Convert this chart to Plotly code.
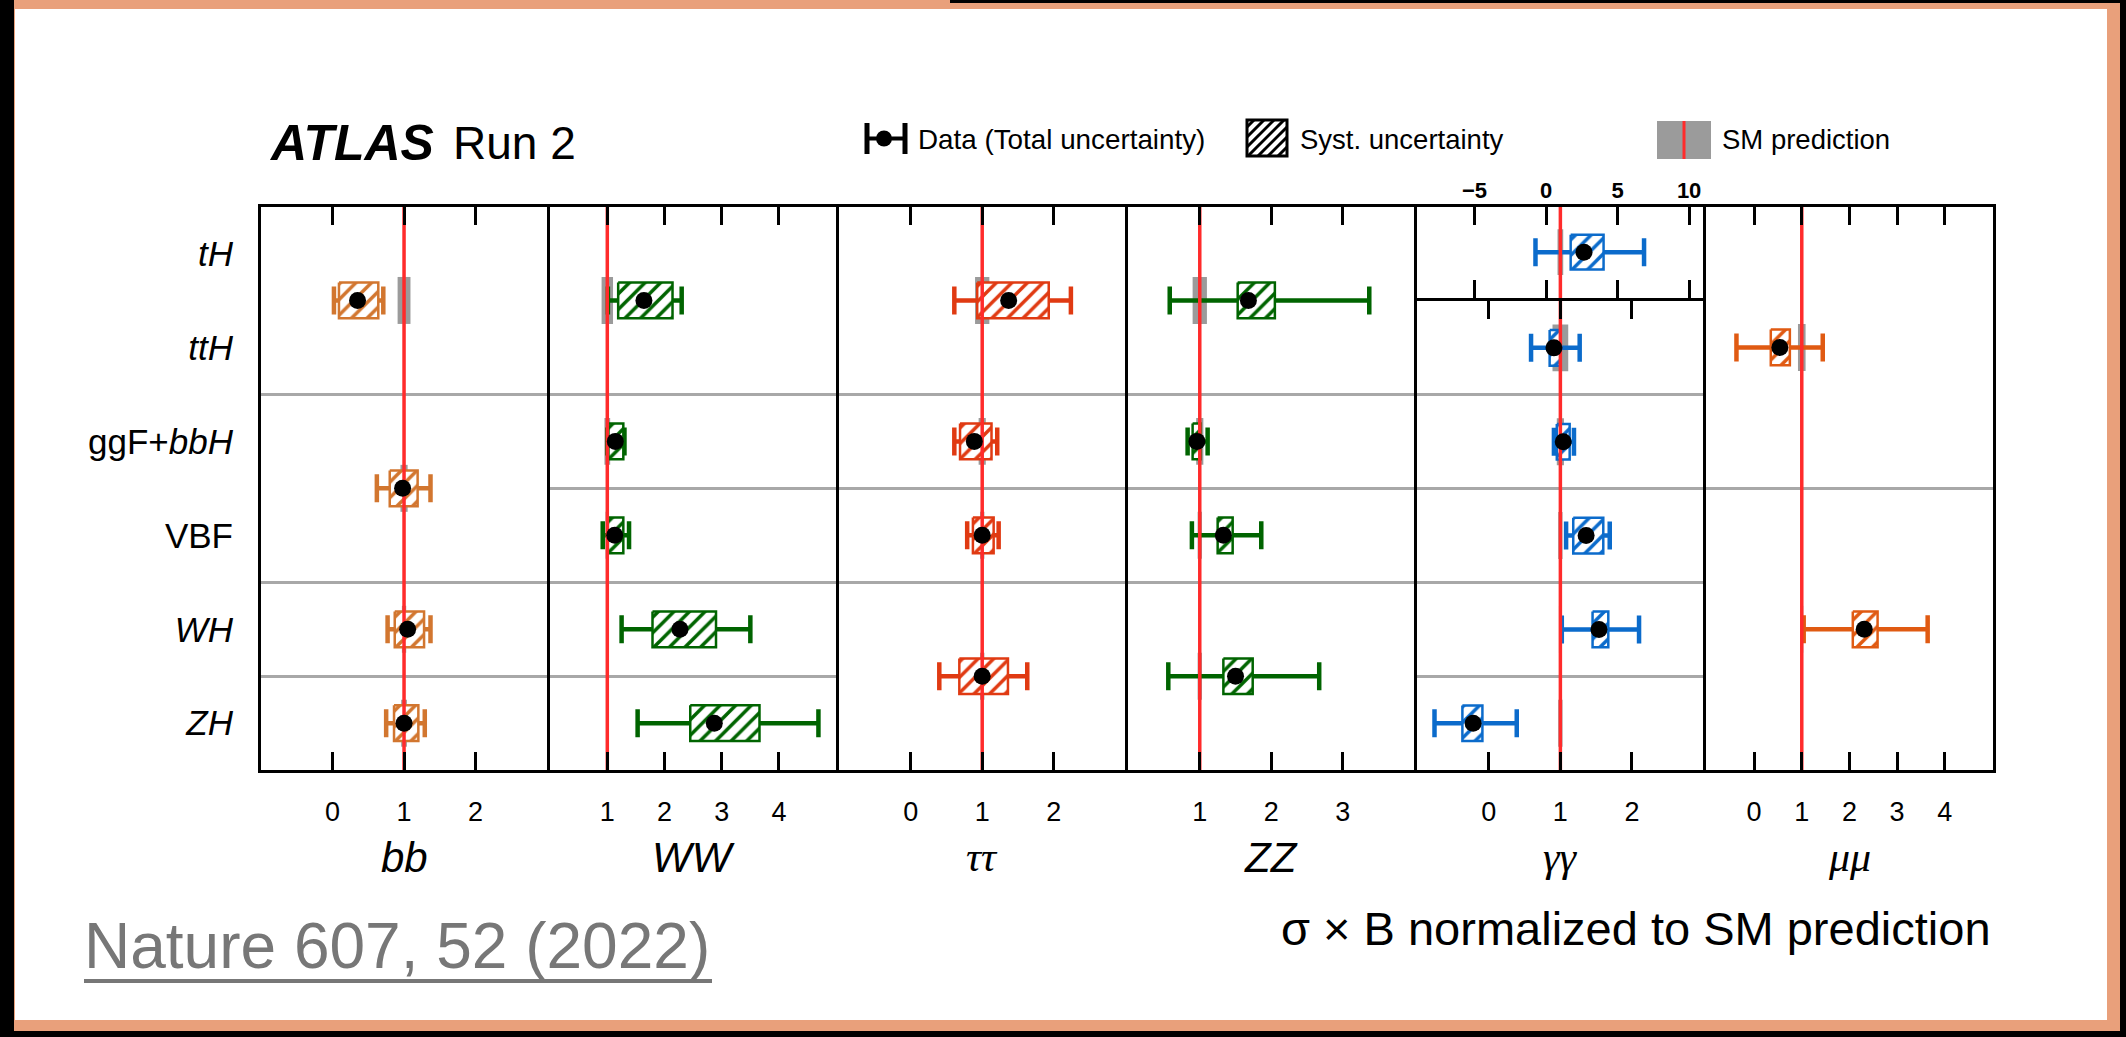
import plotly.graph_objects as go

W, H = 2126, 1037

# ---------------- data ----------------
row_labels = ["<i>tH</i>", "<i>ttH</i>", "ggF+<i>bbH</i>", "VBF", "<i>WH</i>", "<i>ZH</i>"]
row_centers = [0.5, 1.5, 2.5, 3.5, 4.5, 5.5]

# H -> bb
bb_y = [1.0, 3.0, 4.5, 5.5]
bb_val = [0.35, 0.98, 1.05, 1.00]
bb_tot_lo = [0.02, 0.62, 0.77, 0.75]
bb_tot_hi = [0.71, 1.37, 1.37, 1.29]
bb_sys_lo = [0.09, 0.80, 0.87, 0.86]
bb_sys_hi = [0.64, 1.19, 1.28, 1.20]
bb_sm = [0.09, 0.05, 0.03, 0.04]

# H -> WW
ww_y = [1.0, 2.5, 3.5, 4.5, 5.5]
ww_val = [1.64, 1.14, 1.13, 2.27, 2.87]
ww_tot_lo = [1.01, 1.00, 0.92, 1.25, 1.53]
ww_tot_hi = [2.30, 1.30, 1.38, 3.50, 4.69]
ww_sys_lo = [1.19, 1.02, 1.01, 1.79, 2.45]
ww_sys_hi = [2.14, 1.28, 1.28, 2.90, 3.66]
ww_sm = [0.10, 0.05, 0.03, 0.02, 0.02]

# H -> tautau
tt_y = [1.0, 2.5, 3.5, 5.0]
tt_val = [1.37, 0.89, 1.00, 1.00]
tt_tot_lo = [0.61, 0.61, 0.79, 0.40]
tt_tot_hi = [2.24, 1.21, 1.23, 1.63]
tt_sys_lo = [0.93, 0.69, 0.87, 0.68]
tt_sys_hi = [1.93, 1.13, 1.16, 1.36]
tt_sm = [0.10, 0.05, 0.03, 0.03]

# H -> ZZ
zz_y = [1.0, 2.5, 3.5, 5.0]
zz_val = [1.68, 0.96, 1.33, 1.50]
zz_tot_lo = [0.58, 0.83, 0.89, 0.56]
zz_tot_hi = [3.37, 1.11, 1.86, 2.67]
zz_sys_lo = [1.53, 0.90, 1.25, 1.33]
zz_sys_hi = [2.05, 1.01, 1.46, 1.74]
zz_sm = [0.10, 0.05, 0.03, 0.03]

# H -> gamma gamma (ttH .. ZH)
yy_y = [1.5, 2.5, 3.5, 4.5, 5.5]
yy_val = [0.91, 1.04, 1.36, 1.54, -0.22]
yy_tot_lo = [0.59, 0.91, 1.08, 1.02, -0.76]
yy_tot_hi = [1.27, 1.19, 1.69, 2.10, 0.39]
yy_sys_lo = [0.85, 0.95, 1.18, 1.45, -0.37]
yy_sys_hi = [1.00, 1.13, 1.60, 1.67, -0.09]
yy_sm = [0.11, 0.05, 0.03, 0.02, 0.03]

# H -> gamma gamma, tH (own scale)
yyth_y = [0.5]
yyth_val = [2.65]
yyth_tot_lo = [-0.74]
yyth_tot_hi = [6.85]
yyth_sys_lo = [1.72]
yyth_sys_hi = [4.02]
yyth_sm = [0.2]

# H -> mumu
mm_y = [1.5, 4.5]
mm_val = [0.54, 2.31]
mm_tot_lo = [-0.37, 1.04]
mm_tot_hi = [1.44, 3.64]
mm_sys_lo = [0.35, 2.07]
mm_sys_hi = [0.75, 2.59]
mm_sm = [0.08, 0.03]

x_tick_bb = [0, 1, 2]
x_tick_ww = [1, 2, 3, 4]
x_tick_tt = [0, 1, 2]
x_tick_zz = [1, 2, 3]
x_tick_yy = [0, 1, 2]
x_tick_yyth = [-5, 0, 5, 10]
x_tick_yyth_text = ["\u22125", "0", "5", "10"]
x_tick_mm = [0, 1, 2, 3, 4]

# ---------------- geometry / style ----------------
FR_L, FR_R = 259.5, 1994.0
FR_T, FR_B = 205.0, 771.7
PW = (FR_R - FR_L) / 6
ROW = (FR_B - FR_T) / 6
LW = 3
HL = LW / 2.0

def px(x):
    return x / W

def py(y):
    return 1 - y / H

SANS = "Liberation Sans, Arial, sans-serif"
SERIF = "Liberation Serif, Times New Roman, serif"
GRAY_BAND = "#9b9b9b"
GRID = "#a8a8a8"
RED = "#ff2b2b"

panels = [
    dict(k=1, col=0, title="<i>bb</i>", tfont=SANS, color="#d2762f",
         y=bb_y, val=bb_val, tlo=bb_tot_lo, thi=bb_tot_hi, slo=bb_sys_lo, shi=bb_sys_hi, sm=bb_sm,
         xr=[-1, 3], tv=x_tick_bb, tt=None, grid=[2, 4, 5], yr=[6, 0]),
    dict(k=2, col=1, title="<i>WW</i>", tfont=SANS, color="#006400",
         y=ww_y, val=ww_val, tlo=ww_tot_lo, thi=ww_tot_hi, slo=ww_sys_lo, shi=ww_sys_hi, sm=ww_sm,
         xr=[0, 5], tv=x_tick_ww, tt=None, grid=[2, 3, 4, 5], yr=[6, 0]),
    dict(k=3, col=2, title="<i>\u03c4\u03c4</i>", tfont=SERIF, color="#e03a12",
         y=tt_y, val=tt_val, tlo=tt_tot_lo, thi=tt_tot_hi, slo=tt_sys_lo, shi=tt_sys_hi, sm=tt_sm,
         xr=[-1, 3], tv=x_tick_tt, tt=None, grid=[2, 3, 4], yr=[6, 0]),
    dict(k=4, col=3, title="<i>ZZ</i>", tfont=SANS, color="#006400",
         y=zz_y, val=zz_val, tlo=zz_tot_lo, thi=zz_tot_hi, slo=zz_sys_lo, shi=zz_sys_hi, sm=zz_sm,
         xr=[0, 4], tv=x_tick_zz, tt=None, grid=[2, 3, 4], yr=[6, 0]),
    dict(k=5, col=4, title="<i>\u03b3\u03b3</i>", tfont=SERIF, color="#0b6bcb",
         y=yy_y, val=yy_val, tlo=yy_tot_lo, thi=yy_tot_hi, slo=yy_sys_lo, shi=yy_sys_hi, sm=yy_sm,
         xr=[-1, 3], tv=x_tick_yy, tt=None, grid=[2, 3, 4, 5], yr=[6, 1]),
    dict(k=6, col=5, title="<i>\u03bc\u03bc</i>", tfont=SERIF, color="#e05a12",
         y=mm_y, val=mm_val, tlo=mm_tot_lo, thi=mm_tot_hi, slo=mm_sys_lo, shi=mm_sys_hi, sm=mm_sm,
         xr=[-1, 5], tv=x_tick_mm, tt=None, grid=[3], yr=[6, 0]),
    dict(k=7, col=4, title=None, tfont=SERIF, color="#0b6bcb",
         y=yyth_y, val=yyth_val, tlo=yyth_tot_lo, thi=yyth_tot_hi, slo=yyth_sys_lo, shi=yyth_sys_hi, sm=yyth_sm,
         xr=[-9, 11], tv=x_tick_yyth, tt=x_tick_yyth_text, grid=[], yr=[1, 0]),
]

BOX_H = 0.19     # half height of syst box (row units)
BAND_W = 0.5     # SM band height (row units)

fig = go.Figure()
layout_axes = {}

for p in panels:
    k = p["k"]
    xa, ya = f"x{k}", f"y{k}"
    col = p["color"]
    # SM prediction band
    fig.add_trace(go.Bar(
        orientation="h", y=p["y"], x=[2 * u for u in p["sm"]], base=[1 - u for u in p["sm"]],
        width=BAND_W, marker=dict(color=GRAY_BAND, line=dict(width=0)),
        xaxis=xa, yaxis=ya, showlegend=False, hoverinfo="skip"))
    # total uncertainty error bars
    fig.add_trace(go.Scatter(
        x=p["val"], y=p["y"], mode="markers",
        marker=dict(size=2, color="rgba(0,0,0,0)"),
        error_x=dict(type="data", symmetric=False,
                     array=[h - v for h, v in zip(p["thi"], p["val"])],
                     arrayminus=[v - l for v, l in zip(p["val"], p["tlo"])],
                     color=col, thickness=4.5, width=14),
        xaxis=xa, yaxis=ya, showlegend=False, hoverinfo="skip"))
    # systematic uncertainty hatched boxes
    bx, by = [], []
    for yc, lo, hi in zip(p["y"], p["slo"], p["shi"]):
        bx += [lo, hi, hi, lo, lo, None]
        by += [yc - BOX_H, yc - BOX_H, yc + BOX_H, yc + BOX_H, yc - BOX_H, None]
    fig.add_trace(go.Scatter(
        x=bx, y=by, mode="lines", fill="toself", fillcolor="white",
        fillpattern=dict(shape="/", fgcolor=col, bgcolor="white", size=11, solidity=0.32,
                         fillmode="replace"),
        line=dict(color=col, width=2.5),
        xaxis=xa, yaxis=ya, showlegend=False, hoverinfo="skip"))
    # SM = 1 line
    fig.add_trace(go.Scatter(
        x=[1, 1], y=[min(p["yr"]), max(p["yr"])], mode="lines",
        line=dict(color=RED, width=3.5),
        xaxis=xa, yaxis=ya, showlegend=False, hoverinfo="skip"))
    # data points
    fig.add_trace(go.Scatter(
        x=p["val"], y=p["y"], mode="markers",
        marker=dict(size=17, color="black"),
        xaxis=xa, yaxis=ya, showlegend=False, hoverinfo="skip"))

    # axes (domains shrunk by half a line width so that shared borders coincide)
    c = p["col"]
    xdom = [px(FR_L + c * PW + HL), px(FR_L + (c + 1) * PW - HL)]
    if k == 5:
        ydom = [py(FR_B - HL), py(FR_T + ROW + HL)]
    elif k == 7:
        ydom = [py(FR_T + ROW - HL), py(FR_T + HL)]
    else:
        ydom = [py(FR_B - HL), py(FR_T + HL)]
    xax = dict(domain=xdom, range=p["xr"], anchor=ya, tickmode="array", tickvals=p["tv"],
               ticks="inside", ticklen=18, tickwidth=3, tickcolor="black",
               showline=True, linewidth=LW, linecolor="black", mirror="ticks",
               showgrid=False, zeroline=False, fixedrange=True,
               tickfont=dict(family=SANS, size=27, color="black"),
               ticklabelstandoff=15)
    if p["tt"] is not None:
        xax.update(ticktext=p["tt"], side="top", ticklabelstandoff=-3,
                   tickfont=dict(family=SANS, size=22, color="black", weight="bold"))
    yax = dict(domain=ydom, range=p["yr"], anchor=xa, showline=True, linewidth=LW,
               linecolor="black", mirror=True, ticks="", showgrid=False, zeroline=False,
               fixedrange=True, showticklabels=False,
               minor=dict(tickvals=p["grid"], showgrid=bool(p["grid"]), gridcolor=GRID,
                          gridwidth=2.5, ticks=""))
    if k == 1:
        yax.update(showticklabels=True, tickmode="array", tickvals=row_centers,
                   ticktext=row_labels, ticklabelstandoff=18,
                   tickfont=dict(family=SANS, size=35, color="black"))
    sfx = "" if k == 1 else str(k)
    layout_axes["xaxis" + sfx] = xax
    layout_axes["yaxis" + sfx] = yax

fig.update_layout(**layout_axes)

annotations = []
for p in panels:
    if p["title"]:
        cx = FR_L + (p["col"] + 0.5) * PW
        annotations.append(dict(text=p["title"], x=px(cx), y=py(857), xref="paper", yref="paper",
                                xanchor="center", yanchor="middle", showarrow=False,
                                font=dict(family=p["tfont"], size=42, color="black")))

annotations += [
    dict(text="<b><i>ATLAS</i></b>", x=px(267), y=py(143), xanchor="left", size=50),
    dict(text="Run 2", x=px(451), y=py(143), xanchor="left", size=46),
    dict(text="Data (Total uncertainty)", x=px(916), y=py(139), xanchor="left", size=27.8),
    dict(text="Syst. uncertainty", x=px(1298), y=py(139), xanchor="left", size=27.5),
    dict(text="SM prediction", x=px(1720), y=py(139), xanchor="left", size=27.5),
    dict(text="\u03c3 \u00d7 B normalized to SM prediction", x=px(1993), y=py(928),
         xanchor="right", size=47),
    dict(text="Nature 607, 52 (2022)", x=px(82), y=py(946), xanchor="left", size=64,
         color="#777777"),
]
final_ann = []
for a in annotations:
    if "font" in a:
        final_ann.append(a)
        continue
    size = a.pop("size", 45)
    color = a.pop("color", "black")
    a.update(xref="paper", yref="paper", yanchor="middle", showarrow=False,
             font=dict(family=SANS, size=size, color=color))
    final_ann.append(a)

# ---------------- decorative frame + legend icons (shapes) ----------------
shapes = [
    dict(type="rect", xref="paper", yref="paper", x0=px(15), x1=px(2107), y0=py(1020), y1=py(9),
         fillcolor="white", line=dict(width=0), layer="below"),
    dict(type="rect", xref="paper", yref="paper", x0=0, x1=px(14), y0=0, y1=1,
         fillcolor="black", line=dict(width=0), layer="below"),
    dict(type="rect", xref="paper", yref="paper", x0=0, x1=1, y0=0, y1=py(1031),
         fillcolor="black", line=dict(width=0), layer="below"),
    dict(type="rect", xref="paper", yref="paper", x0=px(2120), x1=1, y0=0, y1=1,
         fillcolor="black", line=dict(width=0), layer="below"),
    dict(type="rect", xref="paper", yref="paper", x0=px(950), x1=px(2126), y0=py(3), y1=1,
         fillcolor="black", line=dict(width=0), layer="below"),
]

def seg(x0, y0, x1, y1, color, width):
    return dict(type="line", xref="paper", yref="paper", x0=px(x0), y0=py(y0), x1=px(x1), y1=py(y1),
                line=dict(color=color, width=width))

# underline of the reference text
shapes.append(seg(84, 981, 712, 981, "#777777", 4))

# data icon
shapes += [
    seg(867, 123, 867, 154, "black", 5),
    seg(905, 123, 905, 154, "black", 5),
    seg(867, 138.5, 905, 138.5, "black", 4),
    dict(type="circle", xref="paper", yref="paper", x0=px(876), x1=px(892), y0=py(146.5), y1=py(130.5),
         fillcolor="black", line=dict(width=0)),
]
# syst icon (hatched box, "/" hatching)
sx0, sy0, sx1, sy1 = 1247, 120, 1287, 156
shapes.append(dict(type="rect", xref="paper", yref="paper", x0=px(sx0), x1=px(sx1), y0=py(sy1), y1=py(sy0),
                   fillcolor="white", line=dict(color="black", width=3)))
wbox, hbox = sx1 - sx0, sy1 - sy0
c = 7
while c < wbox + hbox:
    # points on the line (x - sx0) + (y - sy0) = c, clipped to the box
    if c <= wbox:
        ax, ay = sx0 + c, sy0
    else:
        ax, ay = sx1, sy0 + (c - wbox)
    if c <= hbox:
        bx_, by_ = sx0, sy0 + c
    else:
        bx_, by_ = sx0 + (c - hbox), sy1
    shapes.append(seg(ax, ay, bx_, by_, "black", 3))
    c += 10
# SM icon
shapes += [
    dict(type="rect", xref="paper", yref="paper", x0=px(1657), x1=px(1711), y0=py(159), y1=py(121),
         fillcolor=GRAY_BAND, line=dict(width=0)),
    seg(1684, 121, 1684, 159, RED, 3),
]

fig.update_layout(
    width=W, height=H, autosize=False,
    margin=dict(l=0, r=0, t=0, b=0, pad=0),
    paper_bgcolor="#e9a07b", plot_bgcolor="white",
    barmode="overlay", showlegend=False,
    annotations=final_ann, shapes=shapes,
    font=dict(family=SANS, color="black"),
)

fig.write_html("out.html", config={"displayModeBar": False})
